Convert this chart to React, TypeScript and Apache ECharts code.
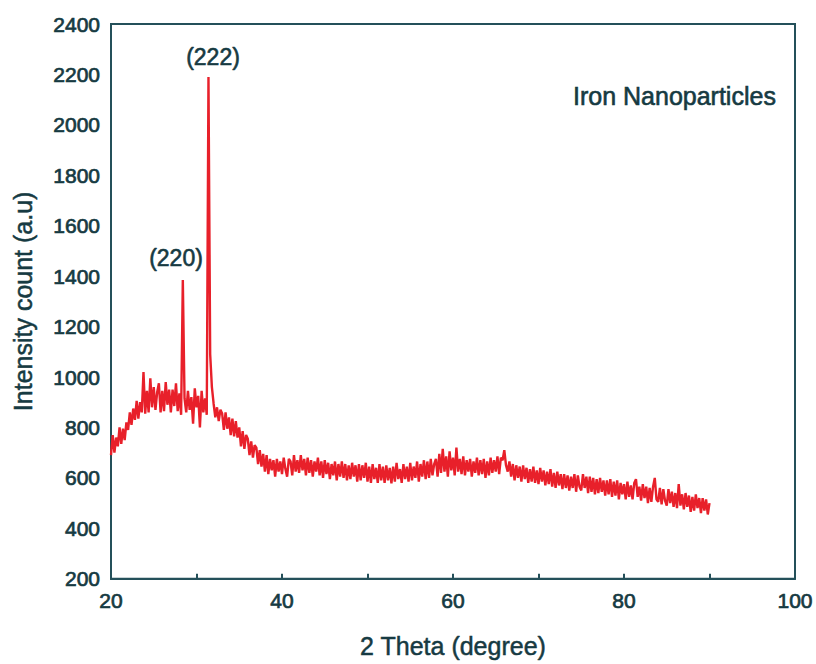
import React, { useEffect, useRef } from "react";
import * as echarts from "echarts";

// 2θ sampling of the diffractogram
const thetaStart = 20;
const thetaStep = 0.2;

// Intensity counts, 20.0° … 90.0° every 0.2°
const intensity = [
  690, 770, 700, 760, 725, // 20
  800, 735, 795, 750, 820, // 21
  790, 860, 810, 875, 830, // 22
  905, 835, 900, 860, 1020, // 23
  855, 945, 860, 995, 880, // 24
  960, 870, 940, 975, 860, // 25
  945, 865, 980, 890, 950, // 26
  860, 950, 885, 975, 865, // 27
  935, 850, 1385, 915, 860, // 28
  945, 870, 920, 815, 955, // 29
  880, 925, 800, 945, 860, // 30
  915, 850, 2190, 1090, 960, // 31
  895, 840, 880, 825, 870, // 32
  855, 790, 860, 795, 840, // 33
  770, 835, 765, 825, 760, // 34
  800, 725, 785, 715, 770, // 35
  755, 690, 745, 680, 730, // 36
  720, 655, 710, 645, 695, // 37
  625, 690, 615, 675, 630, // 38
  670, 605, 675, 625, 665, // 39
  615, 680, 635, 605, 675, // 40
  665, 610, 690, 625, 670, // 41
  620, 690, 630, 675, 610, // 42
  680, 620, 670, 605, 665, // 43
  625, 680, 610, 665, 600, // 44
  670, 615, 660, 595, 655, // 45
  610, 665, 590, 655, 605, // 46
  665, 600, 655, 590, 650, // 47
  595, 660, 605, 650, 585, // 48
  655, 590, 650, 600, 660, // 49
  585, 645, 580, 655, 595, // 50
  640, 580, 655, 590, 645, // 51
  580, 650, 590, 640, 578, // 52
  645, 585, 660, 595, 635, // 53
  580, 655, 595, 645, 585, // 54
  660, 590, 645, 600, 665, // 55
  585, 655, 605, 670, 595, // 56
  665, 600, 675, 610, 655, // 57
  675, 605, 695, 620, 715, // 58
  625, 685, 605, 705, 630, // 59
  680, 610, 720, 625, 675, // 60
  615, 685, 610, 670, 625, // 61
  675, 605, 665, 620, 680, // 62
  610, 670, 615, 675, 600, // 63
  665, 610, 680, 620, 670, // 64
  625, 685, 615, 680, 670, // 65
  710, 650, 625, 665, 605, // 66
  655, 590, 650, 600, 645, // 67
  585, 650, 595, 640, 580, // 68
  635, 585, 645, 580, 630, // 69
  575, 640, 585, 630, 570, // 70
  625, 575, 635, 565, 620, // 71
  560, 625, 570, 615, 555, // 72
  615, 560, 610, 550, 605, // 73
  560, 615, 545, 610, 565, // 74
  550, 615, 560, 605, 540, // 75
  605, 545, 600, 535, 595, // 76
  540, 600, 545, 590, 530, // 77
  590, 535, 595, 525, 585, // 78
  530, 590, 515, 580, 535, // 79
  575, 515, 585, 525, 570, // 80
  515, 580, 595, 525, 565, // 81
  510, 575, 520, 565, 500, // 82
  560, 505, 565, 600, 515, // 83
  505, 560, 495, 555, 510, // 84
  490, 555, 500, 545, 485, // 85
  540, 480, 575, 490, 535, // 86
  475, 540, 485, 530, 465, // 87
  525, 470, 535, 480, 520, // 88
  460, 520, 470, 515, 455, // 89
  500, // 90
];

const xTitle = "2 Theta (degree)";
const yTitle = "Intensity count (a.u)";
const sampleLabel = "Iron Nanoparticles";
const peakLabels = ["(220)", "(222)"];

const textColor = "#163a42";
const axisColor = "#24505a";
const lineColor = "#e8202a";
const font = "'Liberation Sans', Arial, Helvetica, sans-serif";

export default function App() {
  const ref = useRef<HTMLDivElement>(null);

  useEffect(() => {
    document.body.style.margin = "0";
    if (!ref.current) return;
    const chart = echarts.init(ref.current, null, { renderer: "svg" });
    const data = intensity.map((v, i) => [
      Math.round((thetaStart + i * thetaStep) * 10) / 10,
      v,
    ]);

    const heavy = { textBorderColor: textColor, textBorderWidth: 0.7 };
    const graphicText = (text: string, x: number, y: number, size: number, align: string) => ({
      type: "text",
      x,
      y,
      style: {
        text,
        fontSize: size,
        fill: textColor,
        stroke: textColor,
        lineWidth: 0.6,
        fontFamily: font,
        textAlign: align,
        textVerticalAlign: "middle",
      },
    });

    chart.setOption({
      animation: false,
      backgroundColor: "#ffffff",
      grid: {
        left: 111,
        right: 21,
        top: 24,
        bottom: 83,
        show: true,
        borderColor: axisColor,
        borderWidth: 2,
        backgroundColor: "transparent",
      },
      xAxis: {
        type: "value",
        min: 20,
        max: 100,
        interval: 20,
        name: xTitle,
        nameLocation: "middle",
        nameGap: 55,
        nameTextStyle: { fontSize: 25, color: textColor, fontFamily: font, ...heavy, textBorderWidth: 0.5 },
        axisLine: { show: true, lineStyle: { color: axisColor, width: 2 } },
        axisTick: {
          show: true,
          inside: true,
          length: 5,
          lineStyle: { color: axisColor, width: 2 },
        },
        minorTick: {
          show: true,
          splitNumber: 2,
          length: 5,
          lineStyle: { color: axisColor, width: 2 },
        },
        axisLabel: {
          fontSize: 21,
          color: textColor,
          fontFamily: font,
          margin: 11,
          ...heavy,
          formatter: (v: number) => String(v),
        },
        splitLine: { show: false },
      },
      yAxis: {
        type: "value",
        min: 200,
        max: 2400,
        interval: 200,
        name: yTitle,
        nameLocation: "middle",
        nameGap: 76,
        nameTextStyle: { fontSize: 25, color: textColor, fontFamily: font, ...heavy, textBorderWidth: 0.5 },
        axisLine: { show: true, lineStyle: { color: axisColor, width: 2 } },
        axisTick: { show: false },
        axisLabel: {
          fontSize: 21,
          color: textColor,
          fontFamily: font,
          margin: 11,
          ...heavy,
          formatter: (v: number) => String(v),
        },
        splitLine: { show: false },
      },
      graphic: [
        graphicText(peakLabels[0], 176, 258, 23, "center"),
        graphicText(peakLabels[1], 213, 57, 23, "center"),
        graphicText(sampleLabel, 573, 96, 25, "left"),
      ],
      series: [
        {
          type: "line",
          data,
          symbol: "none",
          lineStyle: { color: lineColor, width: 2.4 },
          clip: true,
        },
      ],
    });

    return () => chart.dispose();
  }, []);

  return <div ref={ref} style={{ width: 816, height: 664 }} />;
}
